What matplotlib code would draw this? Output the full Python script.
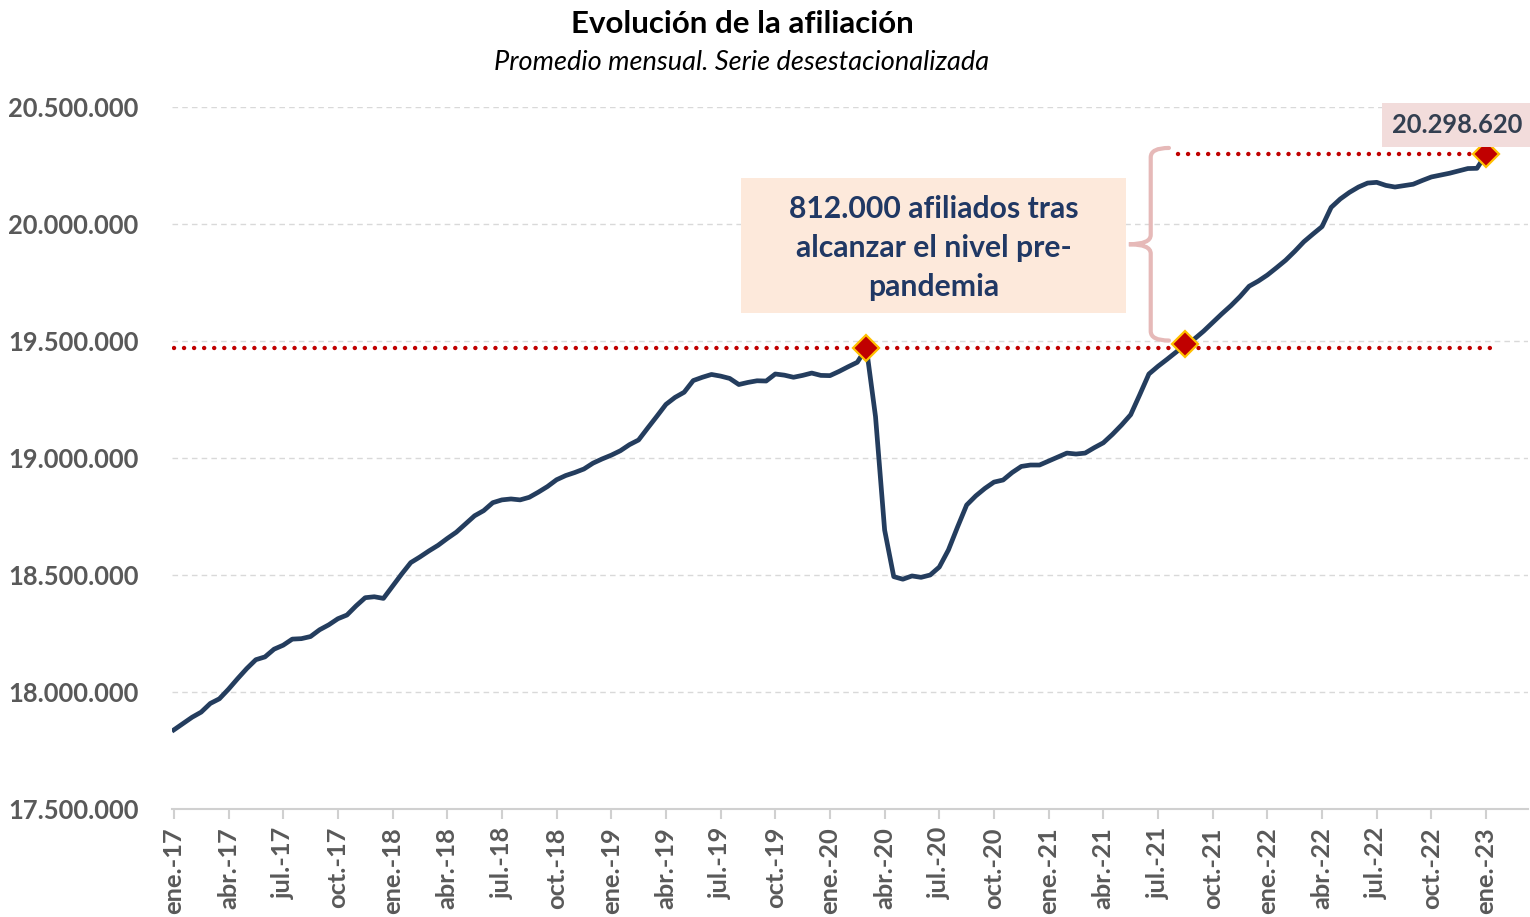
import numpy as np
import matplotlib
matplotlib.use("Agg")
import matplotlib.pyplot as plt
from matplotlib.path import Path
from matplotlib.patches import PathPatch, Rectangle

# ---- data (semi-monthly points, ene-17 .. ene-23) ----
afiliados = [
    17838000, 17865000, 17892000, 17914000, 17951000, 17971000, 18012000, 18057000,
    18100000, 18138000, 18150000, 18183000, 18200000, 18226000, 18228000, 18237000,
    18266000, 18287000, 18313000, 18329000, 18368000, 18403000, 18407000, 18400000,
    18452000, 18504000, 18553000, 18577000, 18603000, 18627000, 18656000, 18683000,
    18718000, 18753000, 18775000, 18809000, 18821000, 18825000, 18821000, 18832000,
    18854000, 18878000, 18907000, 18925000, 18938000, 18953000, 18978000, 18996000,
    19012000, 19031000, 19057000, 19077000, 19128000, 19178000, 19229000, 19259000,
    19281000, 19331000, 19345000, 19357000, 19350000, 19340000, 19314000, 19323000,
    19330000, 19329000, 19359000, 19354000, 19345000, 19353000, 19363000, 19353000,
    19352000, 19370000, 19390000, 19409000, 19470000, 19177000, 18692000, 18493000,
    18482000, 18496000, 18490000, 18500000, 18534000, 18607000, 18705000, 18799000,
    18838000, 18870000, 18897000, 18906000, 18938000, 18964000, 18970000, 18970000,
    18987000, 19004000, 19021000, 19017000, 19021000, 19044000, 19065000, 19101000,
    19141000, 19185000, 19271000, 19359000, 19392000, 19422000, 19453000, 19486620,
    19509000, 19542000, 19579000, 19616000, 19651000, 19690000, 19734000, 19756000,
    19782000, 19813000, 19845000, 19883000, 19924000, 19957000, 19989000, 20071000,
    20107000, 20135000, 20158000, 20175000, 20178000, 20165000, 20158000, 20164000,
    20170000, 20186000, 20201000, 20209000, 20217000, 20227000, 20237000, 20238000,
    20298620,
]
tick_labels = [
    "ene.-17", "abr.-17", "jul.-17", "oct.-17",
    "ene.-18", "abr.-18", "jul.-18", "oct.-18",
    "ene.-19", "abr.-19", "jul.-19", "oct.-19",
    "ene.-20", "abr.-20", "jul.-20", "oct.-20",
    "ene.-21", "abr.-21", "jul.-21", "oct.-21",
    "ene.-22", "abr.-22", "jul.-22", "oct.-22",
    "ene.-23",
]
y_ticks = [17500000, 18000000, 18500000, 19000000, 19500000, 20000000, 20500000]
idx_prepandemia = 76      # mar.-20
idx_recuperado = 111      # ago.-21
idx_ultimo = len(afiliados) - 1
nivel_prepandemia = afiliados[idx_prepandemia]
texto_caja = "812.000 afiliados tras\nalcanzar el nivel pre-\npandemia"
valor_final = "20.298.620"

# ---- style ----
FONT = "Lato"
LINE_C = "#243D5E"
RED = "#C00000"
GOLD = "#FFC000"
GRAY_TXT = "#595959"
NAVY_TXT = "#203864"

x = np.arange(len(afiliados)) * 0.5          # months since ene.-17
tick_pos = np.arange(len(tick_labels)) * 3

fig = plt.figure(figsize=(15.30, 9.17), dpi=100)
ax = fig.add_axes([172 / 1530, 1 - 809 / 917, 1356 / 1530, 702 / 917])

ax.set_xlim(-0.1, 74.3)
ax.set_ylim(y_ticks[0], y_ticks[-1])

# grid
for v in y_ticks[1:]:
    ax.axhline(v, color="#D9D9D9", lw=1.0, ls=(0, (4, 3)), zorder=0)

for s in ["top", "right", "left"]:
    ax.spines[s].set_visible(False)
ax.spines["bottom"].set_color("#D0D0D0")
ax.spines["bottom"].set_linewidth(1.5)

ax.set_yticks(y_ticks)
ax.set_yticklabels([f"{v:,}".replace(",", ".") for v in y_ticks],
                   fontsize=18.4, fontweight="bold", color=GRAY_TXT, family=FONT)
ax.tick_params(axis="y", length=0, pad=24)

ax.set_xticks(tick_pos)
ax.set_xticklabels(tick_labels, rotation=90, fontsize=18.3, fontweight="bold",
                   color=GRAY_TXT, family=FONT)
ax.tick_params(axis="x", length=7, width=1.5, color="#D0D0D0", pad=6)

# dotted reference lines
dot = (0, (0.01, 2.25))
ax.plot([0, 72.4], [nivel_prepandemia, nivel_prepandemia], color=RED, lw=3.2,
        ls=dot, dash_capstyle="round", zorder=2)
ax.plot([55.1, x[idx_ultimo]], [afiliados[idx_ultimo], afiliados[idx_ultimo]],
        color=RED, lw=3.2, ls=dot, dash_capstyle="round", zorder=2)

# series
ax.plot(x, afiliados, color=LINE_C, lw=3.4, solid_joinstyle="round", zorder=3)

# diamonds
for i in (idx_prepandemia, idx_recuperado, idx_ultimo):
    ax.plot(x[i], afiliados[i], marker="D", ms=13, mfc=RED, mec=GOLD, mew=1.6,
            zorder=4, clip_on=False)

# brace
xr, xv, xt = 54.6, 53.6, 52.4
yt, yb = 20325000, 19502000
ym = (yt + yb) / 2
d = 40000
verts = [(xr, yt), (xv, yt), (xv, yt - d), (xv, ym + d), (xv, ym), (xt, ym),
         (xv, ym), (xv, ym - d), (xv, yb + d), (xv, yb), (xr, yb)]
codes = [Path.MOVETO, Path.CURVE3, Path.CURVE3, Path.LINETO, Path.CURVE3, Path.CURVE3,
         Path.CURVE3, Path.CURVE3, Path.LINETO, Path.CURVE3, Path.CURVE3]
ax.add_patch(PathPatch(Path(verts, codes), fill=False, ec="#E6B9B8", lw=3.0,
                       capstyle="round", zorder=2))

# annotation box
ax.add_patch(Rectangle((0.4196, 0.7066), 0.2839, 0.1923, transform=ax.transAxes,
                       fc="#FDE9DB", ec="none", zorder=1))
ax.text(0.5616, 0.7990, texto_caja, transform=ax.transAxes, ha="center", va="center",
        fontsize=21.7, fontweight="bold", color=NAVY_TXT, family=FONT,
        linespacing=1.47, zorder=5)

# value label
ax.annotate(valor_final, xy=(x[idx_ultimo], afiliados[idx_ultimo]),
            xytext=(-21, 21), textcoords="offset points", ha="center", va="center",
            fontsize=18.4, fontweight="bold", color="#333F50", family=FONT,
            bbox=dict(boxstyle="square,pad=0.4", fc="#F2DCDB", ec="none"),
            zorder=5, annotation_clip=False)

# titles
fig.text(742 / 1530, 1 - 24 / 917, "Evolución de la afiliación", ha="center",
         va="center", fontsize=22.5, fontweight="bold", color="black", family=FONT)
fig.text(742 / 1530, 1 - 62 / 917, "Promedio mensual. Serie desestacionalizada",
         ha="center", va="center", fontsize=19.5, style="italic", color="black",
         family=FONT)

fig.savefig("out.png", dpi=100)
